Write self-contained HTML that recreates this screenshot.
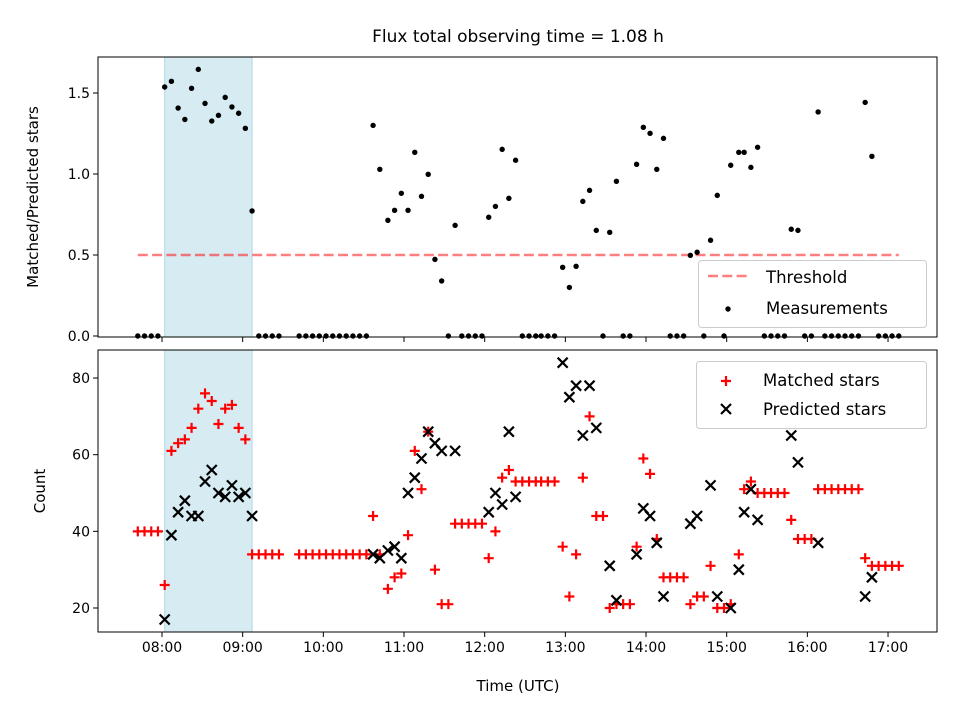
<!DOCTYPE html>
<html><head><meta charset="utf-8"><style>
body{margin:0;background:#fff}
svg{display:block;font-family:"DejaVu Sans","Liberation Sans",sans-serif}
</style></head><body>
<svg id="chart" width="960" height="720" viewBox="0 0 960 720">
<text x="518" y="42" font-size="17" text-anchor="middle">Flux total observing time = 1.08 h</text>
<g id="topPanel"></g>
<g id="botPanel"></g>
</svg>
<script>
const times = ["07:42","07:47","07:52","07:57","08:02","08:07","08:12","08:17","08:22","08:27","08:32","08:37","08:42","08:47","08:52","08:57","09:02","09:07","09:12","09:17","09:22","09:27","09:42","09:47","09:52","09:57","10:02","10:07","10:12","10:17","10:22","10:27","10:32","10:37","10:42","10:48","10:53","10:58","11:03","11:08","11:13","11:18","11:23","11:28","11:33","11:38","11:43","11:48","11:53","11:58","12:03","12:08","12:13","12:18","12:23","12:28","12:33","12:38","12:42","12:47","12:52","12:58","13:03","13:08","13:13","13:18","13:23","13:28","13:33","13:38","13:43","13:48","13:53","13:58","14:03","14:08","14:13","14:18","14:23","14:28","14:33","14:38","14:43","14:48","14:53","14:58","15:03","15:09","15:13","15:18","15:23","15:28","15:33","15:38","15:43","15:48","15:53","15:58","16:03","16:08","16:13","16:18","16:23","16:28","16:33","16:38","16:43","16:48","16:53","16:58","17:03","17:08"];
const ratio = [0,0,0,0,1.537,1.572,1.407,1.337,1.529,1.646,1.436,1.327,1.362,1.473,1.414,1.375,1.282,0.772,0,0,0,0,0,0,0,0,0,0,0,0,0,0,0,1.30,1.029,0.714,0.776,0.881,0.776,1.134,0.862,0.998,0.473,0.34,0,0.683,0,0,0,0,0.733,0.80,1.152,0.85,1.085,0,0,0,0,0,0,0.424,0.30,0.43,0.831,0.899,0.652,0,0.64,0.955,0,0,1.06,1.288,1.251,1.029,1.22,0,0,0,0.498,0.517,0,0.591,0.868,0,1.054,1.134,1.134,1.041,1.165,0,0,0,0,0.659,0.652,0,0,1.383,0,0,0,0,0,0,1.442,1.109,0,0,0,0];
const matched = [40,40,40,40,26,61,63,64,67,72,76,74,68,72,73,67,64,34,34,34,34,34,34,34,34,34,34,34,34,34,34,34,34,44,34,25,28,29,39,61,51,66,30,21,21,42,42,42,42,42,33,40,54,56,53,53,53,53,53,53,53,36,23,34,54,70,44,44,20,21,21,21,36,59,55,38,28,28,28,28,21,23,23,31,20,20,21,34,51,53,50,50,50,50,50,43,38,38,38,51,51,51,51,51,51,51,33,31,31,31,31,31];
const predicted = [null,null,null,null,17,39,45,48,44,44,53,56,50,49,52,49,50,44,null,null,null,null,null,null,null,null,null,null,null,null,null,null,null,34,33,35,36,33,50,54,59,66,63,61,null,61,null,null,null,null,45,50,47,66,49,null,null,null,null,null,null,84,75,78,65,78,67,null,31,22,null,null,34,46,44,37,23,null,null,null,42,44,null,52,23,null,20,30,45,51,43,null,null,null,null,65,58,null,null,37,null,null,null,null,null,null,23,28,null,null,null,null];
const xTickLabels = ["08:00","09:00","10:00","11:00","12:00","13:00","14:00","15:00","16:00","17:00"];
const ratioTicks = [0.0,0.5,1.0,1.5];
const countTicks = [20,40,60,80];
const shadeRange = ["08:02","09:07"];
const threshold = 0.5;
const thresholdRange = ["07:42","17:08"];

const NS="http://www.w3.org/2000/svg";
const L=98,R=937,T1=57,B1=337,T2=350,B2=632;
function toH(s){const p=s.split(":");return +p[0]+p[1]/60;}
function X(s){return 162+(toH(s)-8)*80.67;}
function Y1(v){return 336-v*162;}
function Y2(v){return 608-(v-20)*3.833;}
function mk(tag,attrs,parent){const e=document.createElementNS(NS,tag);for(const k in attrs)e.setAttribute(k,attrs[k]);parent.appendChild(e);return e;}
const topG=document.getElementById('topPanel'),botG=document.getElementById('botPanel');

[[topG,T1,B1],[botG,T2,B2]].forEach(([g,t,b])=>{
  const r=mk('rect',{x:X(shadeRange[0]),y:t,width:X(shadeRange[1])-X(shadeRange[0]),height:b-t,fill:'#add8e6','fill-opacity':0.5,stroke:'#add8e6'},g);
  
  
});
const th=mk('line',{x1:X(thresholdRange[0]),x2:X(thresholdRange[1]),y1:Y1(threshold),y2:Y1(threshold),stroke:'#ff0000','stroke-opacity':0.5,'stroke-width':2.5,'stroke-dasharray':'10,4.3'},topG);


times.forEach((t,i)=>{
  const c=mk('circle',{cx:X(t),cy:Y1(ratio[i]),r:2.7,fill:'#000'},topG);
  
  
});
function plus(x,y){return `M${x-5},${y}H${x+5}M${x},${y-5}V${y+5}`;}
function cross(x,y){return `M${x-5},${y-5}L${x+5},${y+5}M${x-5},${y+5}L${x+5},${y-5}`;}
times.forEach((t,i)=>{
  const p=mk('path',{d:plus(X(t),Y2(matched[i])),stroke:'#ff0000','stroke-width':2.2,fill:'none'},botG);
  
  
});
times.forEach((t,i)=>{
  if(predicted[i]==null)return;
  const p=mk('path',{d:cross(X(t),Y2(predicted[i])),stroke:'#000','stroke-width':2.2,fill:'none'},botG);
  
  
});
[[topG,T1,B1,false],[botG,T2,B2,true]].forEach(([g,t,b,lab])=>{
  const f=mk('rect',{x:L,y:t,width:R-L,height:b-t,fill:'none',stroke:'#000','stroke-width':1},g);
  
  
  xTickLabels.forEach(s=>{
    const x=X(s);
    const tk=mk('line',{x1:x,x2:x,y1:b,y2:b+5,stroke:'#000'},g);
    
    
    if(lab){
      const tx=mk('text',{x:x,y:b+20,'font-size':14,'text-anchor':'middle'},g);
      tx.textContent=s;
      
      
    }
  });
});
ratioTicks.forEach(v=>{
  const y=Y1(v);
  const tk=mk('line',{x1:L-5,x2:L,y1:y,y2:y,stroke:'#000'},topG);
  
  
  const tx=mk('text',{x:L-8,y:y+5,'font-size':14,'text-anchor':'end'},topG);
  tx.textContent=v.toFixed(1);
  
  
});
countTicks.forEach(v=>{
  const y=Y2(v);
  const tk=mk('line',{x1:L-5,x2:L,y1:y,y2:y,stroke:'#000'},botG);
  
  
  const tx=mk('text',{x:L-8,y:y+5,'font-size':14,'text-anchor':'end'},botG);
  tx.textContent=v;
  
  
});
</script>
<svg width="960" height="720" style="position:absolute;left:0;top:0;font-family:'DejaVu Sans','Liberation Sans',sans-serif">
<text x="38" y="197" font-size="15" text-anchor="middle" transform="rotate(-90 38 197)">Matched/Predicted stars</text>
<text x="45" y="491" font-size="15" text-anchor="middle" transform="rotate(-90 45 491)">Count</text>
<text x="518" y="691" font-size="15" text-anchor="middle">Time (UTC)</text>
<g>
<rect x="698.5" y="260.5" width="228" height="67" rx="3" fill="#fff" fill-opacity="0.8" stroke="#ccc"/>
<line x1="708" x2="748" y1="276" y2="276" stroke="#ff0000" stroke-opacity="0.5" stroke-width="2.5" stroke-dasharray="10,4.3"/>
<text x="766" y="283" font-size="16.5">Threshold</text>
<circle cx="728" cy="309" r="2.7" fill="#000"/>
<text x="766" y="314" font-size="16.5">Measurements</text>
</g>
<g>
<rect x="696.5" y="361.5" width="230" height="67" rx="3" fill="#fff" fill-opacity="0.8" stroke="#ccc"/>
<path d="M721,381H731M726,376V386" stroke="#ff0000" stroke-width="2.2"/>
<text x="763" y="386" font-size="16.5">Matched stars</text>
<path d="M721,404L731,414M721,414L731,404" stroke="#000" stroke-width="2.2"/>
<text x="763" y="415" font-size="16.5">Predicted stars</text>
</g>
</svg>
</body></html>
